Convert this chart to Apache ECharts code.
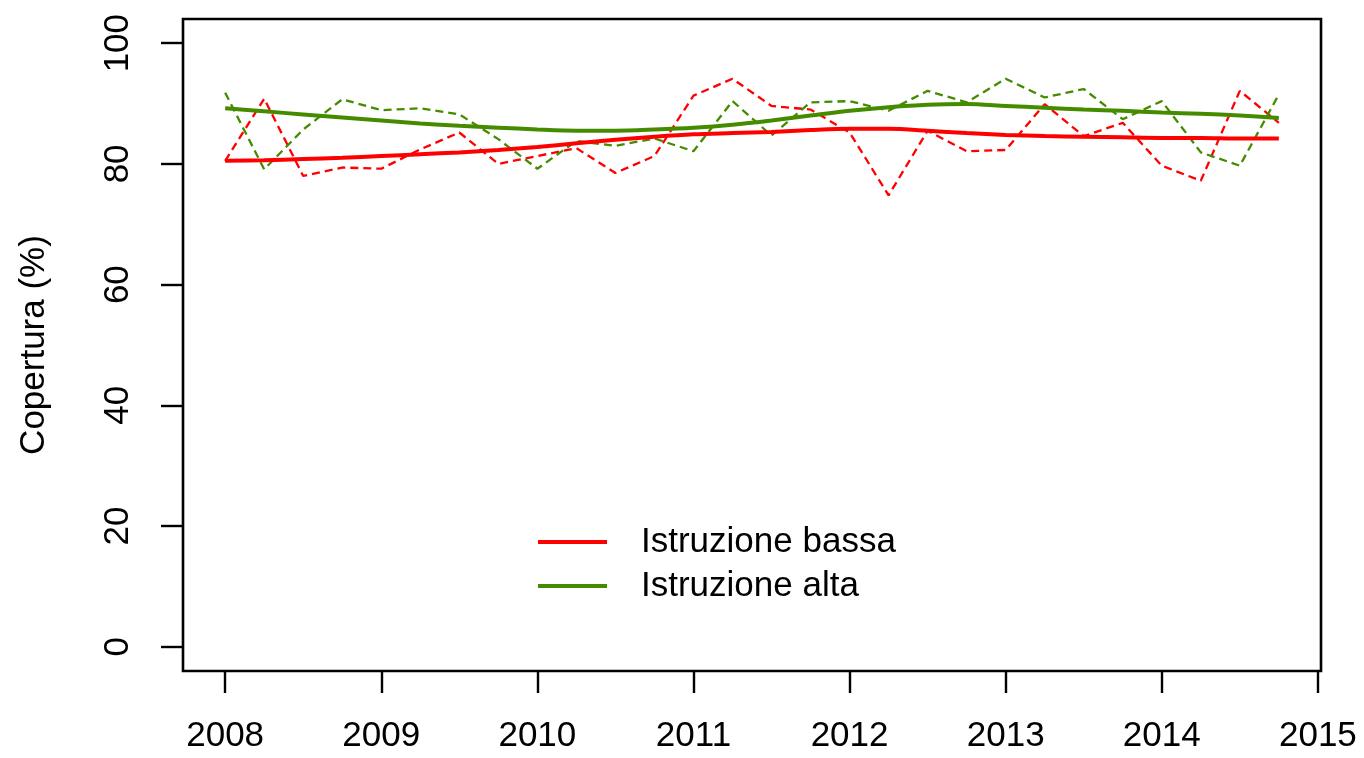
<!DOCTYPE html>
<html lang="it">
<head>
    <meta charset="UTF-8">
    <title>Copertura per istruzione</title>
    <script type="text/javascript" src="https://cdn.jsdelivr.net/npm/echarts@6/dist/echarts.min.js"></script>
    <style>body{margin:0;background:#fff;}</style>
</head>
<body>
<div id="chartmain" style="width:1364px;height:758px"></div>
<script>
    // trimestri 2008 - 2014
    var quarters = [2008, 2008.25, 2008.5, 2008.75, 2009, 2009.25, 2009.5, 2009.75,
        2010, 2010.25, 2010.5, 2010.75, 2011, 2011.25, 2011.5, 2011.75,
        2012, 2012.25, 2012.5, 2012.75, 2013, 2013.25, 2013.5, 2013.75,
        2014, 2014.25, 2014.5, 2014.75];

    // valori trimestrali (tratteggio)
    var bassaRaw = [80.5, 90.8, 78.0, 79.4, 79.2, 82.4, 85.2, 80.0,
        81.3, 82.6, 78.5, 81.3, 91.3, 94.1, 89.6, 89.0,
        85.2, 74.8, 85.5, 82.1, 82.3, 89.9, 84.6, 86.8,
        79.7, 77.2, 92.1, 86.8];
    var altaRaw = [91.8, 79.1, 85.7, 90.7, 88.9, 89.2, 88.2, 84.1,
        79.2, 83.8, 83.0, 84.2, 82.1, 90.4, 84.7, 90.2,
        90.4, 88.8, 92.1, 90.2, 94.1, 91.0, 92.4, 87.4,
        90.4, 81.9, 79.7, 91.5];

    // andamento smussato (linea continua)
    var bassaSmooth = [80.5, 80.6, 80.8, 81.0, 81.3, 81.6, 81.9, 82.3,
        82.8, 83.4, 84.0, 84.5, 84.9, 85.1, 85.3, 85.6,
        85.8, 85.8, 85.5, 85.1, 84.8, 84.6, 84.5, 84.4,
        84.3, 84.3, 84.2, 84.2];
    var altaSmooth = [89.2, 88.7, 88.2, 87.7, 87.2, 86.7, 86.3, 86.0,
        85.7, 85.5, 85.5, 85.7, 86.0, 86.5, 87.2, 88.0,
        88.8, 89.4, 89.8, 89.9, 89.6, 89.3, 89.0, 88.8,
        88.5, 88.3, 88.0, 87.6];

    var yearTicks = [2008, 2009, 2010, 2011, 2012, 2013, 2014, 2015];
    var yTicks = [0, 20, 40, 60, 80, 100];

    var red = '#FF0000';
    var green = '#458B00';
    var font = 'Liberation Sans, Arial, sans-serif';

    function pairs(vals) {
        return quarters.map(function (q, i) { return [q, vals[i]]; });
    }

    var option = {
        animation: false,
        backgroundColor: '#fff',
        grid: {
            left: 183, right: 43, top: 19, bottom: 87,
            show: true, borderColor: '#000', borderWidth: 2.6,
            backgroundColor: 'transparent'
        },
        legend: {
            data: ['Istruzione bassa', 'Istruzione alta'],
            orient: 'vertical',
            left: 533,
            top: 519,
            icon: 'rect',
            itemWidth: 69,
            itemHeight: 4,
            itemGap: 8,
            textStyle: {
                fontFamily: font, fontSize: 35, color: '#000',
                lineHeight: 36, padding: [0, 0, 0, 29]
            }
        },
        xAxis: {
            type: 'value',
            min: 2007.73,
            max: 2015.02,
            splitLine: {show: false},
            axisLine: {show: false, onZero: false},
            axisTick: {
                show: true, length: 22, customValues: yearTicks,
                lineStyle: {color: '#000', width: 2.4}
            },
            axisLabel: {
                customValues: yearTicks,
                margin: 48,
                fontFamily: font, fontSize: 35, color: '#000',
                formatter: function (v) { return String(v); }
            }
        },
        yAxis: {
            type: 'value',
            min: -4,
            max: 104,
            name: 'Copertura (%)',
            nameLocation: 'middle',
            nameRotate: 90,
            nameGap: 131,
            nameTextStyle: {fontFamily: font, fontSize: 35, color: '#000'},
            splitLine: {show: false},
            axisLine: {show: false, onZero: false},
            axisTick: {
                show: true, length: 22, customValues: yTicks,
                lineStyle: {color: '#000', width: 2.4}
            },
            axisLabel: {
                customValues: yTicks,
                rotate: 90,
                margin: 47,
                fontFamily: font, fontSize: 35, color: '#000'
            }
        },
        series: [
            {
                name: 'bassa trimestrale', type: 'line', data: pairs(bassaRaw),
                showSymbol: false, silent: true,
                lineStyle: {color: red, width: 2.3, type: [8, 5]}
            },
            {
                name: 'alta trimestrale', type: 'line', data: pairs(altaRaw),
                showSymbol: false, silent: true,
                lineStyle: {color: green, width: 2.3, type: [8, 5]}
            },
            {
                name: 'Istruzione bassa', type: 'line', data: pairs(bassaSmooth),
                showSymbol: false, smooth: 0.3,
                itemStyle: {color: red},
                lineStyle: {color: red, width: 4}
            },
            {
                name: 'Istruzione alta', type: 'line', data: pairs(altaSmooth),
                showSymbol: false, smooth: 0.3,
                itemStyle: {color: green},
                lineStyle: {color: green, width: 4}
            }
        ]
    };

    var myChart = echarts.init(document.getElementById('chartmain'));
    myChart.setOption(option);
</script>
</body>
</html>
